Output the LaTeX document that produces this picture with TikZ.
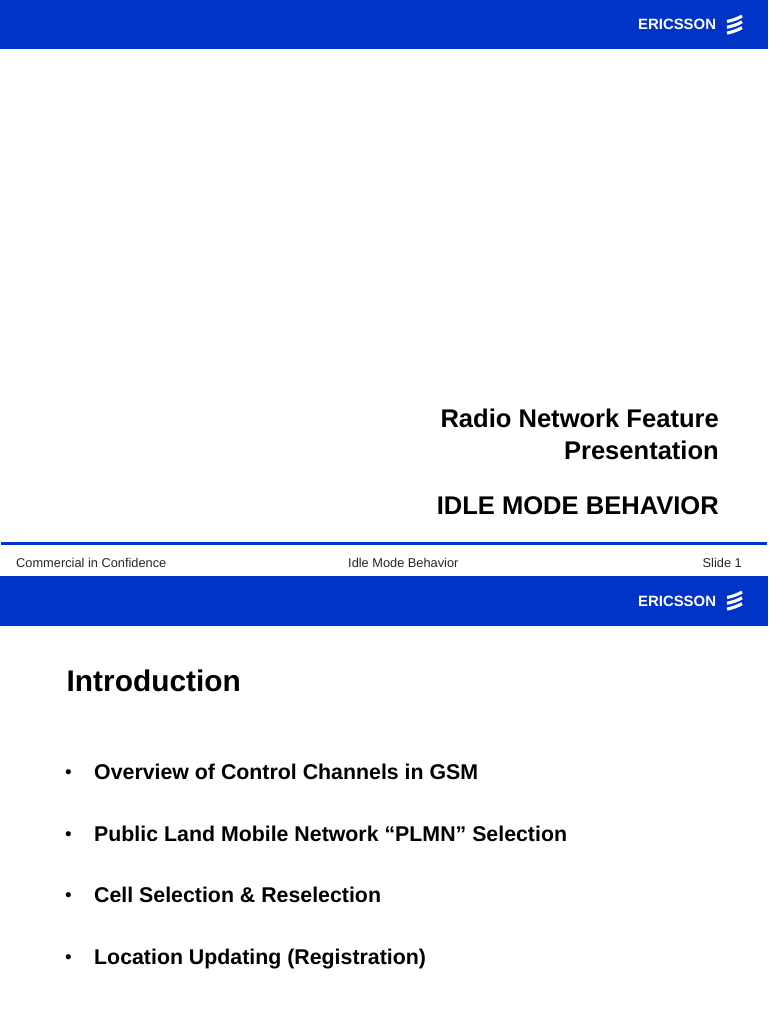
\documentclass[tikz,border=0pt]{standalone}
\usepackage{fontspec}
\setmainfont{Liberation Sans}
\definecolor{ebar}{HTML}{0033C6}
\tikzset{
  x=1pt,y=-1pt,
  bar/.style={fill=ebar,draw=none},
  ttl/.style={anchor=base east,inner sep=0,font=\bfseries\fontsize{25.55}{30}\selectfont},
  head/.style={anchor=base west,inner sep=0,font=\bfseries\fontsize{29.85}{34}\selectfont},
  item/.style={anchor=base west,inner sep=0,font=\bfseries\fontsize{21.33}{26}\selectfont},
  dot/.style={anchor=base west,inner sep=0,font=\fontsize{19}{22}\selectfont},
  foot/.style={inner sep=0,font=\fontsize{12.8}{16}\selectfont,text=black!85},
  logo/.style={anchor=base west,inner sep=0,text=white,font=\bfseries\fontsize{14.9}{18}\selectfont},
  stripe/.style={draw=white,line width=3.1pt,line cap=butt}
}
\newcommand{\ericlogo}[1]{%
  \node[logo] (logotext#1) at (638,#1+30) {ERICSSON};
  \foreach \k in {0,1,2}{
    \draw[stripe] (727,#1+21.5+\k*5.8) .. controls (732,#1+20.5+\k*5.8) and (738,#1+18.5+\k*5.8) .. (742,#1+16+\k*5.8);
  }
}
\begin{document}
\begin{tikzpicture}
\useasboundingbox (0,0) rectangle (768,1024);
\fill[white] (0,0) rectangle (768,1024);
\fill[bar] (0,0) rectangle (768,49.5);
\ericlogo{0}
\node[ttl] (t1) at (719,427) {Radio Network Feature};
\node[ttl] (t2) at (719,459) {Presentation};
\node[ttl] (t3) at (719,514) {IDLE MODE BEHAVIOR};
\fill[bar] (1,542) rectangle (767,544.5);
\node[foot,anchor=base west] (f1) at (16,567) {Commercial in Confidence};
\node[foot,anchor=base west] (f2) at (348,567) {Idle Mode Behavior};
\node[foot,anchor=base east] (f3) at (742,567) {Slide 1};
\fill[bar] (0,576) rectangle (768,625.5);
\ericlogo{576}
\node[head] (h) at (66.5,691) {Introduction};
\node[dot] (d1) at (65,778) {•};
\node[item] (i1) at (94,779) {Overview of Control Channels in GSM};
\node[dot] (d2) at (65,840) {•};
\node[item] (i2) at (94,841) {Public Land Mobile Network “PLMN” Selection};
\node[dot] (d3) at (65,901) {•};
\node[item] (i3) at (94,902) {Cell Selection \& Reselection};
\node[dot] (d4) at (65,963) {•};
\node[item] (i4) at (94,964) {Location Updating (Registration)};
\end{tikzpicture}
\end{document}
